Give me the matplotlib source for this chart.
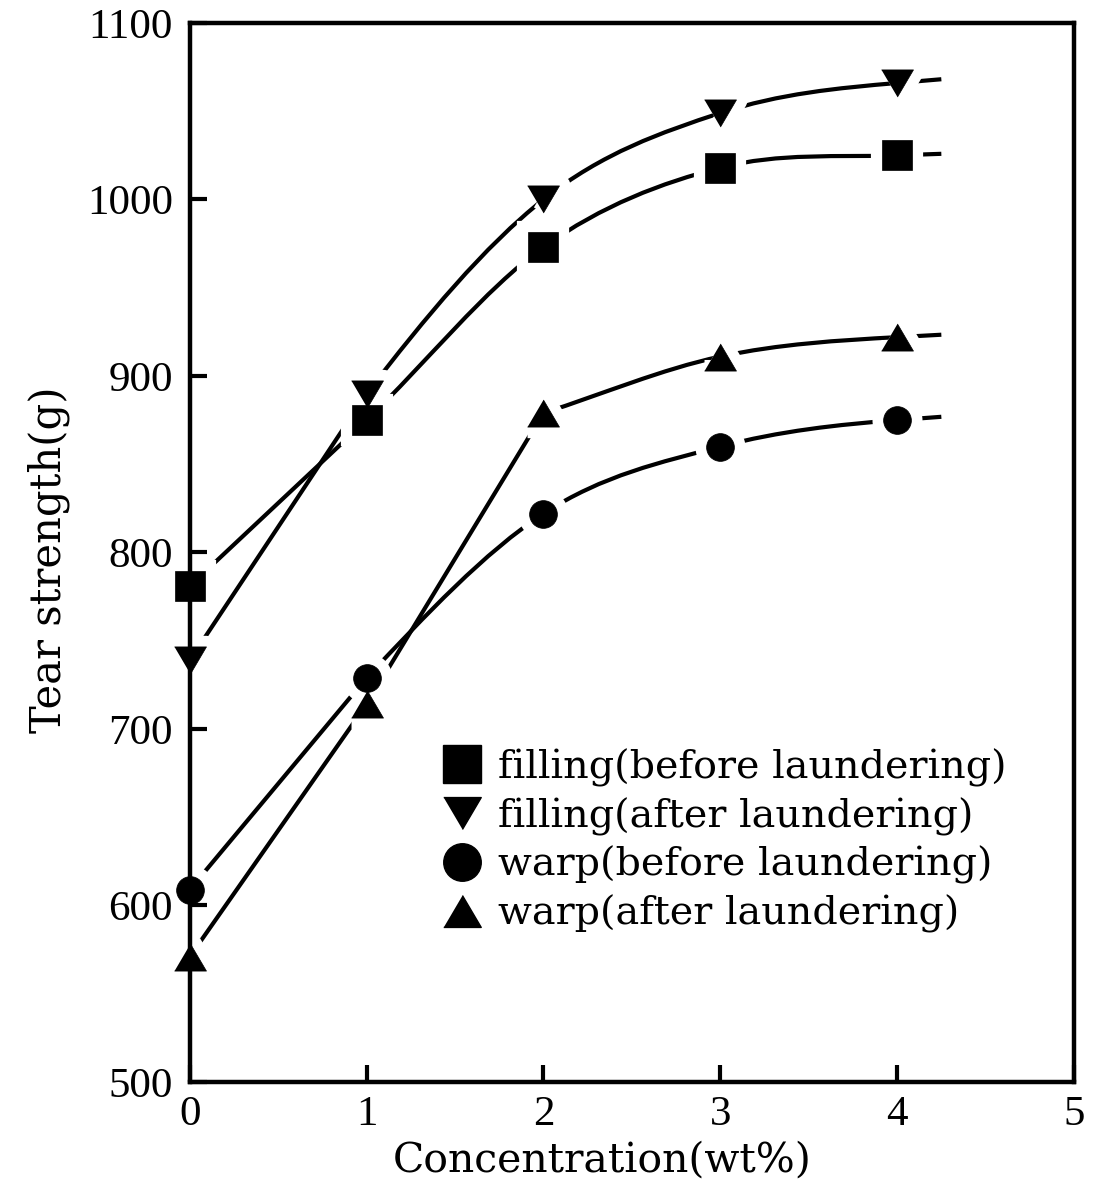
"""
Tear strength vs. concentration, filling / warp, before and after laundering
"""

# %% Imports

import matplotlib
matplotlib.use('Agg')
import matplotlib.pyplot as plt
from matplotlib.path import Path
from matplotlib.patches import PathPatch
from matplotlib.lines import Line2D


# %% Data

conc = [0, 1, 2, 3, 4]

filling_before = [781, 875, 973, 1018, 1025]
filling_after = [739, 890, 1000, 1049, 1066]
warp_before = [609, 729, 822, 860, 875]
warp_after = [571, 714, 879, 911, 922]

labels = ['filling(before laundering)', 'filling(after laundering)',
          'warp(before laundering)', 'warp(after laundering)']


# %% Smooth line through the points (straight first segments, bezier after)

def curve_path(x, y, n_straight=1, tail=0.25):
    """
    Path through (x, y): first n_straight segments are straight,
    rest are cubic beziers with catmull-rom style tangents,
    plus a short tail past the last point.
    """
    n = len(x)
    # tangents
    m = [0.0] * n
    for i in range(1, n - 1):
        m[i] = (y[i + 1] - y[i - 1]) / (x[i + 1] - x[i - 1])
    m[-1] = 0.5 * (y[-1] - y[-2]) / (x[-1] - x[-2])
    # kink where the straight part ends (not at a smooth joint)
    if n_straight > 1:
        k = n_straight
        m[k] = (y[k + 1] - y[k]) / (x[k + 1] - x[k])

    verts = [(x[0], y[0])]
    codes = [Path.MOVETO]
    for i in range(n - 1):
        if i < n_straight:
            verts.append((x[i + 1], y[i + 1]))
            codes.append(Path.LINETO)
        else:
            h = (x[i + 1] - x[i]) / 3.0
            verts += [(x[i] + h, y[i] + m[i] * h),
                      (x[i + 1] - h, y[i + 1] - m[i + 1] * h),
                      (x[i + 1], y[i + 1])]
            codes += [Path.CURVE4] * 3
    verts.append((x[-1] + tail, y[-1] + m[-1] * tail))
    codes.append(Path.LINETO)
    return Path(verts, codes)


# triangle wider than tall
tri_up = [(-1, -0.85), (1, -0.85), (0, 0.85)]
tri_dn = [(-1, 0.85), (1, 0.85), (0, -0.85)]

series = [
    (filling_before, 's', 21, 1),
    (filling_after, tri_dn, 23, 1),
    (warp_before, 'o', 20, 1),
    (warp_after, tri_up, 23, 2),
]


# %% Plot

plt.rcParams['font.family'] = 'DejaVu Serif'

fig = plt.figure(figsize=(10.97, 11.97), dpi=100)
ax = fig.add_axes([0.173, 0.0961, 0.806, 0.8847])
ax.set_axisbelow(False)

for y, mk, ms, ns in series:
    p = curve_path(conc, y, n_straight=ns)
    ax.add_patch(PathPatch(p, facecolor='none', edgecolor='black', lw=3.0,
                           capstyle='butt', zorder=2, clip_on=False))
    # white halo leaves a gap between line and marker
    ax.plot(conc, y, linestyle='none', marker=mk, ms=ms, mfc='white',
            mec='white', mew=16, zorder=2.1, clip_on=False)
    ax.plot(conc, y, linestyle='none', marker=mk, ms=ms, mfc='black',
            mec='black', mew=0.5, zorder=3, clip_on=False)

ax.set_xlim(0, 5)
ax.set_ylim(500, 1100)
ax.set_xticks([0, 1, 2, 3, 4, 5])
ax.set_yticks([500, 600, 700, 800, 900, 1000, 1100])

for s in ax.spines.values():
    s.set_linewidth(3.2)
    s.set_zorder(2.5)

ax.tick_params(direction='in', length=12, width=3, top=False, right=False)
ax.tick_params(axis='x', pad=10)
ax.tick_params(axis='y', pad=12)
for t in ax.get_xticklabels() + ax.get_yticklabels():
    t.set_family('Liberation Serif')
    t.set_fontsize(31)

ax.set_xlabel('Concentration(wt%)', fontsize=29.5)
ax.xaxis.set_label_coords(0.466, -0.055)
ax.set_ylabel('Tear strength(g)', fontsize=30)
ax.yaxis.set_label_coords(-0.135, 0.493)

# legend with markers only
handles = [Line2D([], [], linestyle='none', marker=mk, ms=27,
                  mfc='black', mec='black') for _, mk, _, _ in series]
ax.legend(handles, labels, loc='upper left', bbox_to_anchor=(0.288, 0.315),
          frameon=False, fontsize=28.5, handlelength=0.9, handletextpad=0.45,
          labelspacing=0.26, borderaxespad=0, borderpad=0)

fig.savefig('out.png', dpi=100)
